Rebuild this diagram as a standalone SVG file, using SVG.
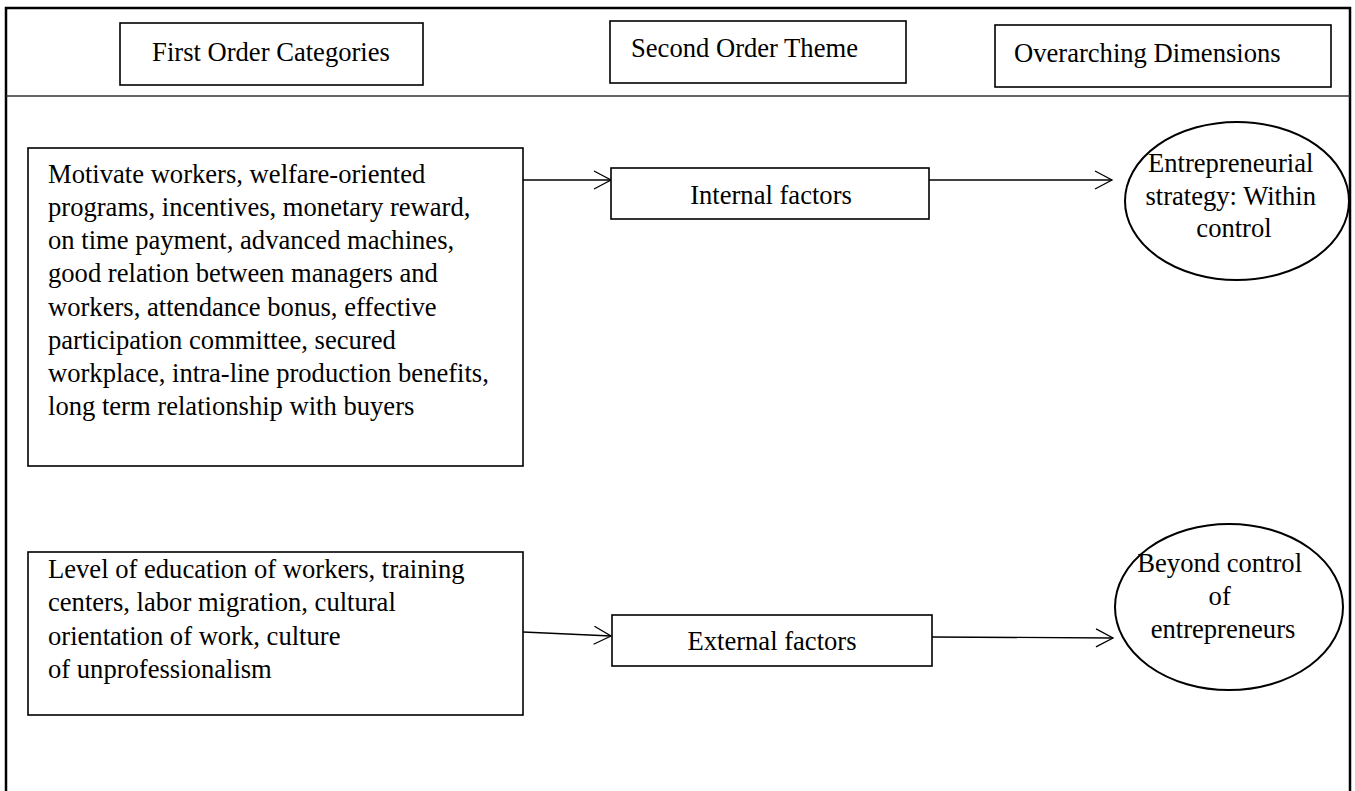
<svg xmlns="http://www.w3.org/2000/svg" width="1355" height="791" viewBox="0 0 1355 791">
<style>
  .t { font-family: "Liberation Serif", "Times New Roman", serif; font-size: 26.6px; fill: #000; }
  .c { text-anchor: middle; }
  .box { fill: #fff; stroke: #000; stroke-width: 1.6; }
  .ell { fill: #fff; stroke: #000; stroke-width: 2; }
  .conn { fill: none; stroke: #000; stroke-width: 1.3; }
</style>
<defs>
  <marker id="arr" markerUnits="userSpaceOnUse" markerWidth="22" markerHeight="22" viewBox="0 0 22 22" refX="18" refY="11" orient="auto">
    <path d="M1,2 L18,11 L1,20" fill="none" stroke="#000" stroke-width="1.3"/>
  </marker>
</defs>
<rect width="1355" height="791" fill="#fff"/>
<g id="frame">
  <path d="M6,791 L6,8 L1350,8 L1350,791" fill="none" stroke="#000" stroke-width="2.5"/>
  <line x1="6" y1="96" x2="1350" y2="96" stroke="#333" stroke-width="1.6"/>
</g>
<g id="header-first">
  <rect class="box" x="120" y="23" width="303" height="62"/>
  <text class="t c" x="271" y="61">First Order Categories</text>
</g>
<g id="header-second">
  <rect class="box" x="610" y="21" width="296" height="62"/>
  <text class="t" x="631" y="57">Second Order Theme</text>
</g>
<g id="header-overarching">
  <rect class="box" x="995" y="25" width="336" height="62"/>
  <text class="t" x="1014" y="62">Overarching Dimensions</text>
</g>
<g id="connectors">
  <line class="conn" x1="523" y1="180" x2="611" y2="180" marker-end="url(#arr)"/>
  <line class="conn" x1="929" y1="180" x2="1112" y2="180" marker-end="url(#arr)"/>
  <line class="conn" x1="523" y1="632" x2="611" y2="636" marker-end="url(#arr)"/>
  <line class="conn" x1="932" y1="637" x2="1113" y2="638" marker-end="url(#arr)"/>
</g>
<g id="first-internal">
  <rect class="box" x="28" y="148" width="495" height="318"/>
  <text class="t">
    <tspan x="48" y="183">Motivate workers, welfare-oriented</tspan>
    <tspan x="48" y="216">programs, incentives, monetary reward,</tspan>
    <tspan x="48" y="249">on time payment, advanced machines,</tspan>
    <tspan x="48" y="282">good relation between managers and</tspan>
    <tspan x="48" y="316">workers, attendance bonus, effective</tspan>
    <tspan x="48" y="349">participation committee, secured</tspan>
    <tspan x="48" y="382">workplace, intra-line production benefits,</tspan>
    <tspan x="48" y="415">long term relationship with buyers</tspan>
  </text>
</g>
<g id="first-external">
  <rect class="box" x="28" y="552" width="495" height="163"/>
  <text class="t">
    <tspan x="48" y="578">Level of education of workers, training</tspan>
    <tspan x="48" y="611">centers, labor migration, cultural</tspan>
    <tspan x="48" y="645">orientation of work, culture</tspan>
    <tspan x="48" y="678">of unprofessionalism</tspan>
  </text>
</g>
<g id="internal-factors">
  <rect class="box" x="611" y="168" width="318" height="51"/>
  <text class="t c" x="771" y="204">Internal factors</text>
</g>
<g id="external-factors">
  <rect class="box" x="612" y="615" width="320" height="51"/>
  <text class="t c" x="772" y="650">External factors</text>
</g>
<g id="dim-within">
  <ellipse class="ell" cx="1237" cy="201" rx="112" ry="79"/>
  <text class="t c">
    <tspan x="1234" y="172">Entrepreneurial</tspan>
    <tspan x="1234" y="205">strategy: Within</tspan>
    <tspan x="1234" y="237">control</tspan>
  </text>
</g>
<g id="dim-beyond">
  <ellipse class="ell" cx="1229" cy="607" rx="114" ry="83"/>
  <text class="t c">
    <tspan x="1223" y="572">Beyond control</tspan>
    <tspan x="1223" y="605">of</tspan>
    <tspan x="1223" y="638">entrepreneurs</tspan>
  </text>
</g>
</svg>
